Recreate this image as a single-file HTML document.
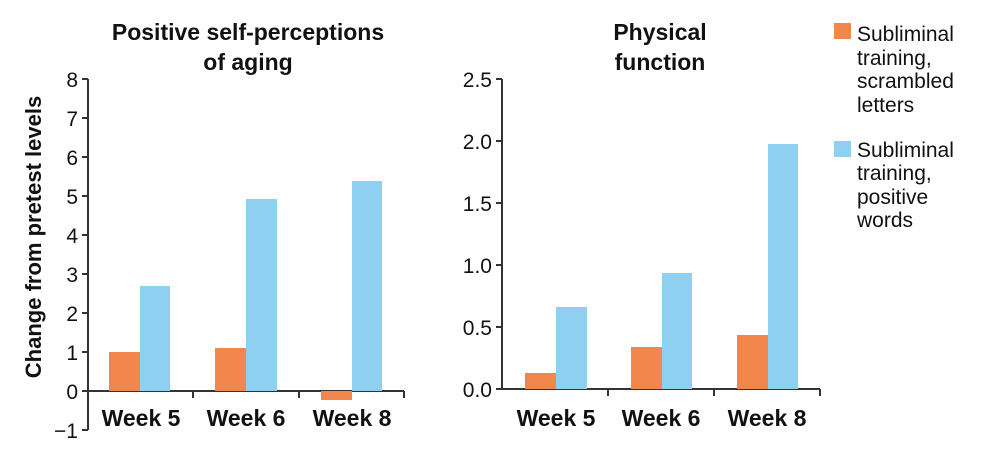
<!DOCTYPE html>
<html><head><style>body{margin:0;background:#fff}svg{display:block}text{font-family:"Liberation Sans",sans-serif;fill:#111}</style></head>
<body>
<svg width="1000" height="457" viewBox="0 0 1000 457">
<g font-size="23" font-weight="bold" text-anchor="middle">
<text x="248" y="40">Positive self-perceptions</text>
<text x="248" y="70">of aging</text>
<text x="660" y="40">Physical</text>
<text x="660" y="70">function</text>
<text transform="translate(41,237) rotate(-90)" font-size="22">Change from pretest levels</text>
</g>
<g stroke="#333" stroke-width="2" fill="none">
<path d="M88 79V430M82 79H88M82 118H88M82 157H88M82 196H88M82 235H88M82 274H88M82 313H88M82 352H88M82 391H88M82 430H88"/>
<path d="M88 391H404M193 391v7M299 391v7M404 391v7"/>
<path d="M502 79V389M496 79H502M496 141H502M496 203H502M496 265H502M496 327H502M496 389H502"/>
<path d="M502 389H820M608 389v7M714 389v7M820 389v7"/>
</g>
<g font-size="21" text-anchor="end">
<text x="78" y="87">8</text><text x="78" y="126">7</text><text x="78" y="165">6</text><text x="78" y="204">5</text><text x="78" y="243">4</text><text x="78" y="282">3</text><text x="78" y="321">2</text><text x="78" y="360">1</text><text x="78" y="399">0</text><text x="78" y="438">−1</text>
<text x="492" y="87">2.5</text><text x="492" y="149">2.0</text><text x="492" y="211">1.5</text><text x="492" y="273">1.0</text><text x="492" y="335">0.5</text><text x="492" y="397">0.0</text>
</g>
<g fill="#F2874E">
<rect x="109" y="352" width="31" height="39"/><rect x="215" y="348" width="31" height="43"/><rect x="321" y="391" width="31" height="9"/>
<rect x="525" y="373" width="31" height="16"/><rect x="631" y="347" width="31" height="42"/><rect x="737" y="335" width="31" height="54"/>
<rect x="834" y="23" width="17" height="16"/>
</g>
<g fill="#8FCFF0">
<rect x="140" y="286" width="30" height="105"/><rect x="246" y="199" width="31" height="192"/><rect x="352" y="181" width="30" height="210"/>
<rect x="556" y="307" width="31" height="82"/><rect x="662" y="273" width="30" height="116"/><rect x="768" y="144" width="30" height="245"/>
<rect x="834" y="141" width="17" height="16"/>
</g>
<g font-size="23" font-weight="bold" text-anchor="middle">
<text x="141" y="426">Week 5</text><text x="246" y="426">Week 6</text><text x="352" y="426">Week 8</text>
<text x="556" y="426">Week 5</text><text x="661" y="426">Week 6</text><text x="767" y="426">Week 8</text>
</g>
<g font-size="21">
<text x="857" y="41">Subliminal</text><text x="857" y="65">training,</text><text x="857" y="88">scrambled</text><text x="857" y="112">letters</text>
<text x="857" y="157">Subliminal</text><text x="857" y="180">training,</text><text x="857" y="204">positive</text><text x="857" y="227">words</text>
</g>
</svg>
</body></html>
